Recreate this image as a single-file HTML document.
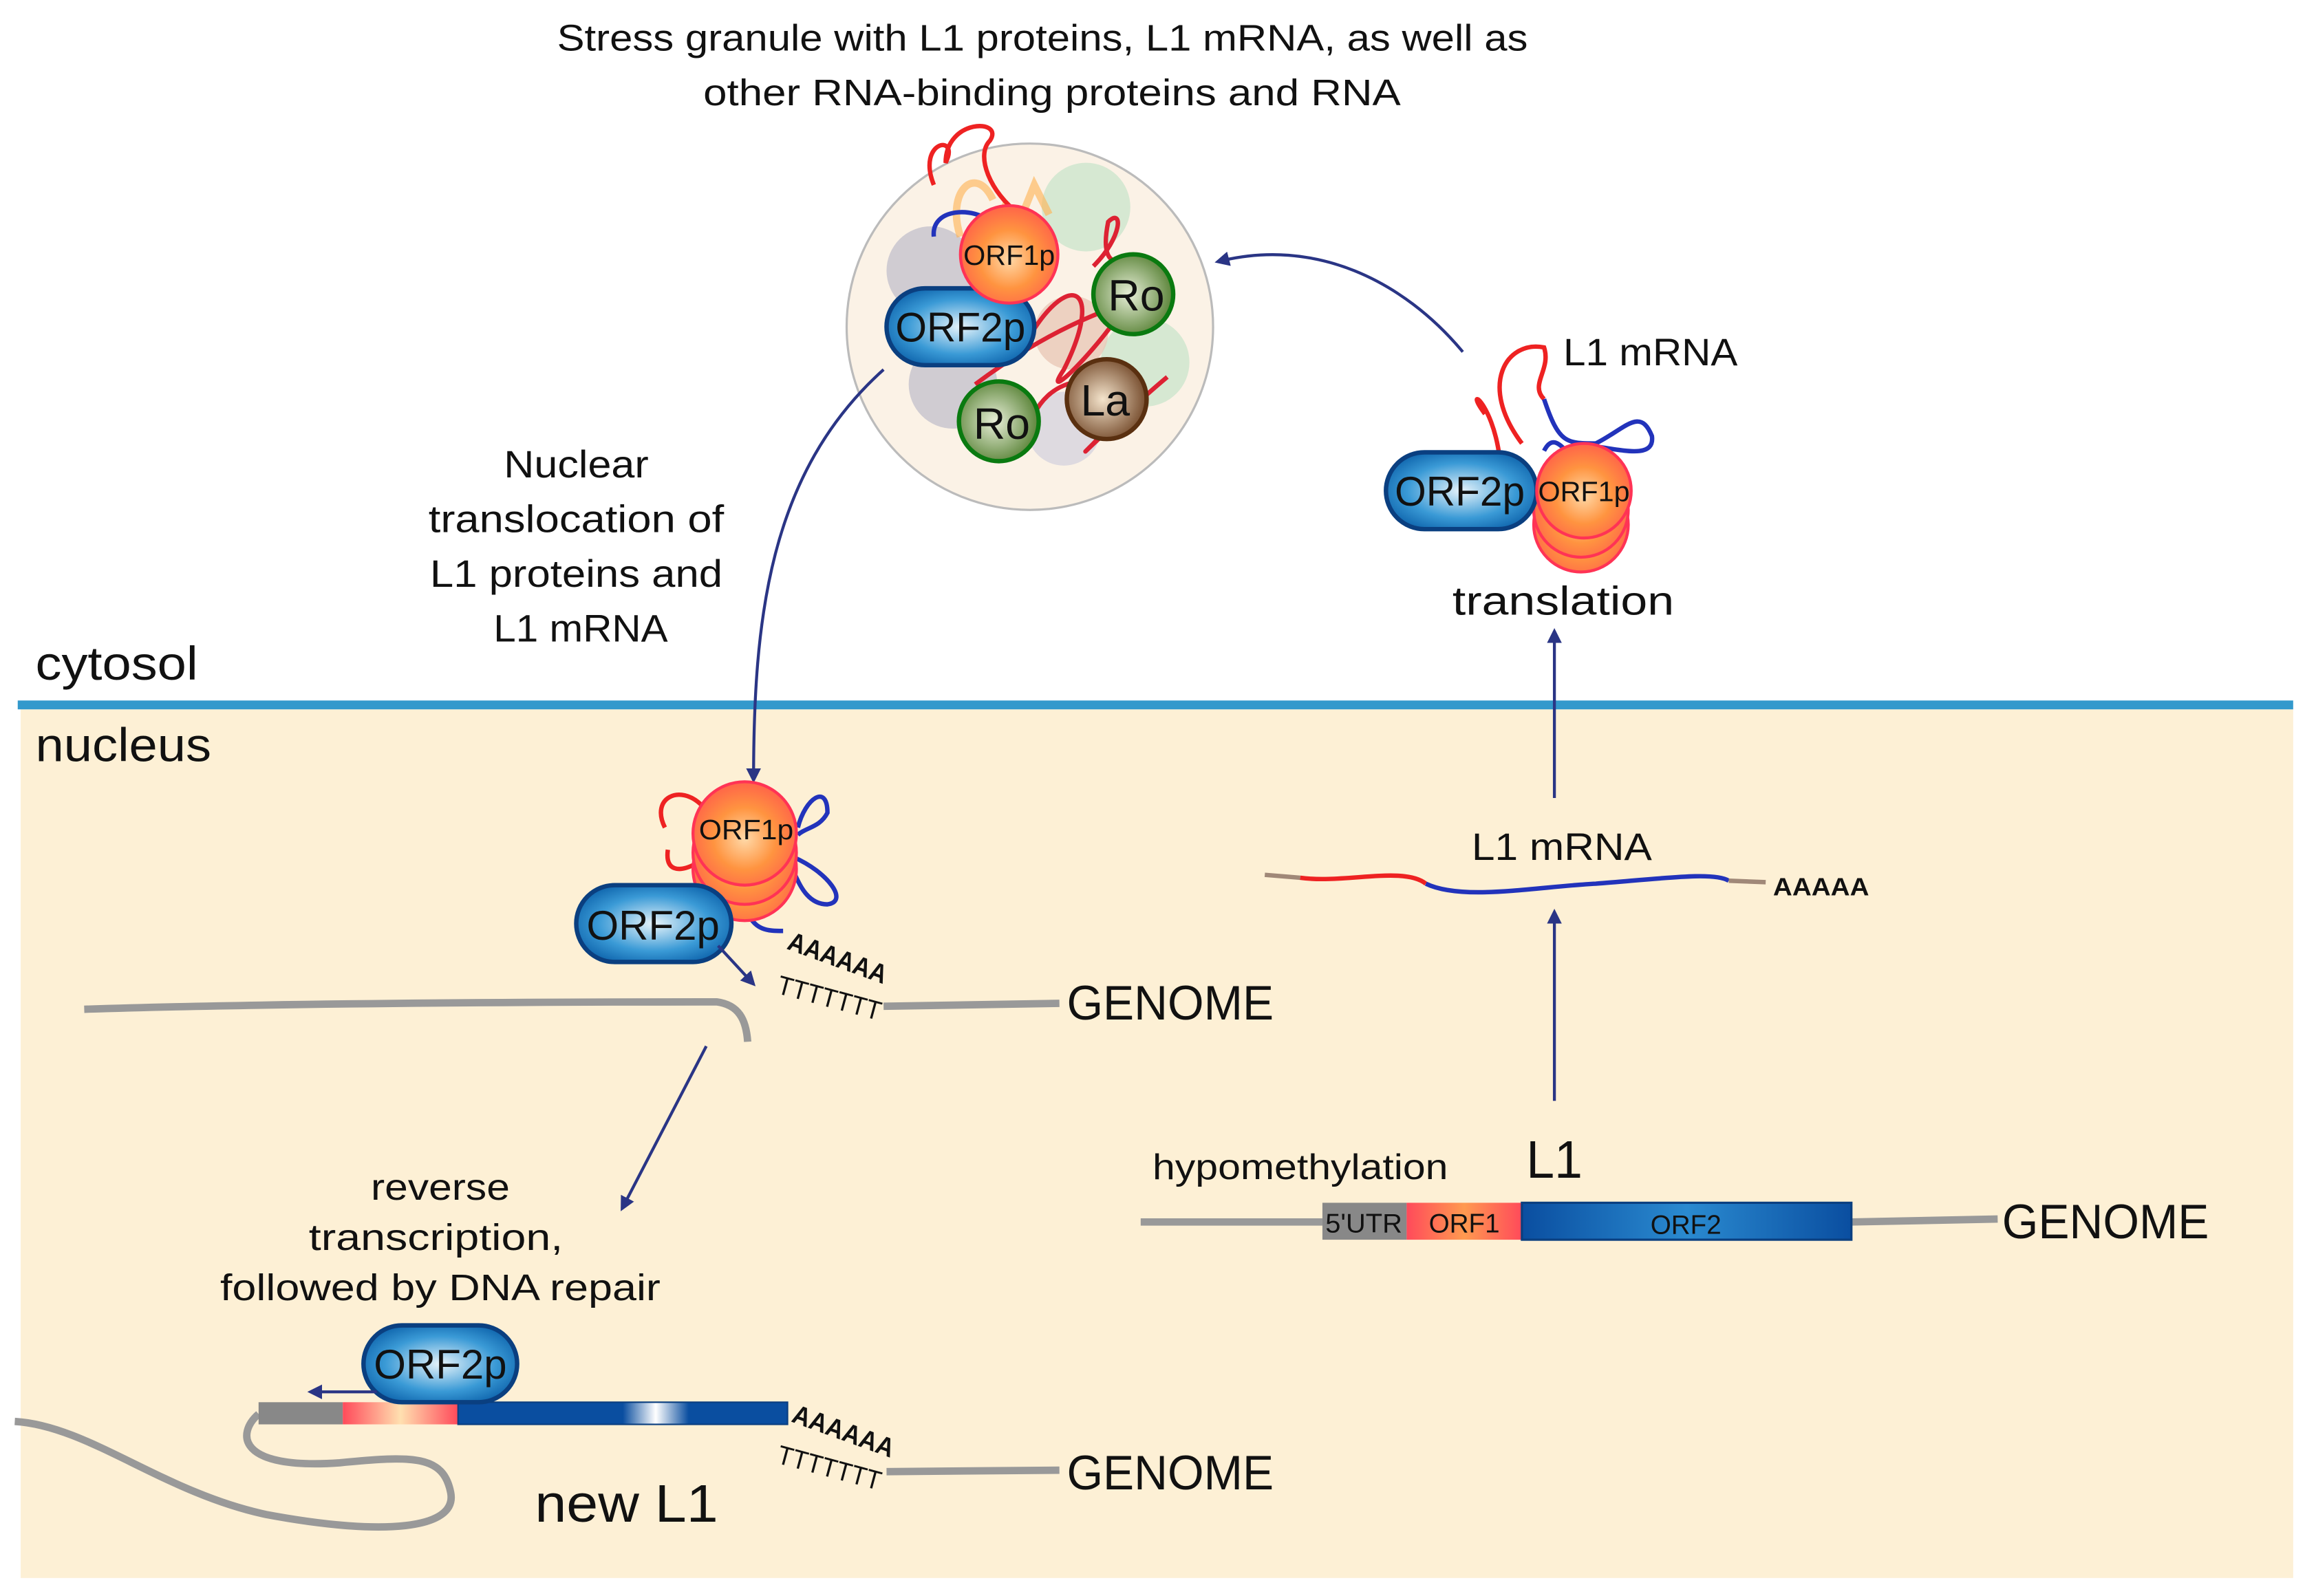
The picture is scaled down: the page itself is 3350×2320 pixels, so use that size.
<!DOCTYPE html>
<html><head><meta charset="utf-8"><style>
html,body{margin:0;padding:0;background:#fff}
svg{display:block}
text{font-family:"Liberation Sans",sans-serif;fill:#111}
</style></head><body>
<svg width="3350" height="2320" viewBox="0 0 1560 1080" xmlns="http://www.w3.org/2000/svg">
<defs>
<radialGradient id="blue" cx="50%" cy="50%" r="60%"><stop offset="0" stop-color="#e6f3fa"/><stop offset="0.6" stop-color="#3a9ad6"/><stop offset="1" stop-color="#0a5fa8"/></radialGradient>
<radialGradient id="org" cx="50%" cy="55%" r="60%"><stop offset="0" stop-color="#ffd9a8"/><stop offset="0.5" stop-color="#ff9440"/><stop offset="1" stop-color="#ff5a4a"/></radialGradient>
<radialGradient id="grn" cx="45%" cy="50%" r="60%"><stop offset="0" stop-color="#e8efd8"/><stop offset="1" stop-color="#4e7a2a"/></radialGradient>
<radialGradient id="brn" cx="45%" cy="50%" r="60%"><stop offset="0" stop-color="#f4e4cc"/><stop offset="1" stop-color="#6b3f1f"/></radialGradient>
<linearGradient id="orf2" x1="0" x2="1"><stop offset="0" stop-color="#0a4ea0"/><stop offset="0.5" stop-color="#2a8ad0"/><stop offset="1" stop-color="#0a4ea0"/></linearGradient>
<linearGradient id="orf1" x1="0" x2="1"><stop offset="0" stop-color="#ff4a5a"/><stop offset="0.5" stop-color="#ff9a50"/><stop offset="1" stop-color="#ff4a5a"/></linearGradient>
<linearGradient id="neworf1" x1="0" x2="1"><stop offset="0" stop-color="#ff4a5a"/><stop offset="0.5" stop-color="#ffe0b0"/><stop offset="1" stop-color="#ff4a5a"/></linearGradient>
<linearGradient id="neworf2" x1="0" x2="1"><stop offset="0" stop-color="#0a4ea0"/><stop offset="0.5" stop-color="#0a4ea0"/><stop offset="0.6" stop-color="#ffffff"/><stop offset="0.7" stop-color="#0a4ea0"/><stop offset="1" stop-color="#0a4ea0"/></linearGradient>
<marker id="ar" markerWidth="10" markerHeight="10" refX="8" refY="5" orient="auto" markerUnits="userSpaceOnUse"><path d="M0,0 L10,5 L0,10 Z" fill="#2a3585"/></marker>
</defs>

<rect x="14" y="480" width="1538" height="588" fill="#fdf0d5"/>
<rect x="12" y="474" width="1540" height="6" fill="#3399cc"/>

<text x="377" y="34" font-size="25" textLength="657" lengthAdjust="spacingAndGlyphs">Stress granule with L1 proteins, L1 mRNA, as well as</text>
<text x="476" y="71" font-size="25" textLength="472" lengthAdjust="spacingAndGlyphs">other RNA-binding proteins and RNA</text>
<text x="24" y="460" font-size="32" textLength="110" lengthAdjust="spacingAndGlyphs">cytosol</text>
<text x="24" y="515" font-size="32" textLength="119" lengthAdjust="spacingAndGlyphs">nucleus</text>

<circle cx="697" cy="221" r="124" fill="#fbf2e6" stroke="#bbb" stroke-width="1.5"/>
<circle cx="630" cy="183" r="30" fill="#d0ccd2"/>
<circle cx="645" cy="260" r="30" fill="#d0ccd2"/>
<circle cx="735" cy="140" r="30" fill="#d6e8d2"/>
<circle cx="775" cy="245" r="30" fill="#d6e8d2"/>
<circle cx="720" cy="290" r="25" fill="#dedae0"/>
<circle cx="725" cy="225" r="25" fill="#eac8b8" opacity="0.8"/>
<path d="M672,135 C660,110 640,130 650,160 M672,160 L680,140 L690,150 L700,125 L710,145" fill="none" stroke="#ffb050" stroke-width="5" opacity="0.6"/>
<path d="M632,125 C620,95 650,90 640,110 C640,80 680,80 670,95 C660,105 670,130 690,145" fill="none" stroke="#ee2222" stroke-width="3"/>
<path d="M632,160 C630,140 660,140 670,150 C680,140 700,145 705,155" fill="none" stroke="#2233bb" stroke-width="3"/>
<path d="M690,240 C720,180 750,190 720,250 C700,280 760,220 770,190 C780,160 740,200 750,150 C760,140 760,160 740,180 M660,260 C700,230 740,210 780,200 M700,280 C720,240 780,260 740,300 C720,320 760,280 790,255" fill="none" stroke="#dd2233" stroke-width="3"/>
<rect x="600" y="195" width="100" height="52" rx="26" fill="url(#blue)" stroke="#0a3f80" stroke-width="3"/>
<text x="650" y="231" font-size="28" text-anchor="middle" textLength="88" lengthAdjust="spacingAndGlyphs">ORF2p</text>
<circle cx="683" cy="172" r="33" fill="url(#org)" stroke="#ff3355" stroke-width="2"/>
<text x="683" y="179" font-size="19" text-anchor="middle" textLength="62" lengthAdjust="spacingAndGlyphs">ORF1p</text>
<circle cx="767" cy="199" r="27" fill="url(#grn)" stroke="#0a7a10" stroke-width="3"/>
<text x="769" y="210" font-size="30" text-anchor="middle">Ro</text>
<circle cx="676" cy="285" r="27" fill="url(#grn)" stroke="#0a7a10" stroke-width="3"/>
<text x="678" y="297" font-size="30" text-anchor="middle">Ro</text>
<circle cx="749" cy="270" r="27" fill="url(#brn)" stroke="#5a3010" stroke-width="3"/>
<text x="748" y="281" font-size="30" text-anchor="middle">La</text>

<path d="M598,250 C520,320 510,420 510,528" fill="none" stroke="#2a3585" stroke-width="2" marker-end="url(#ar)"/>
<path d="M990,238 C950,190 890,160 824,177" fill="none" stroke="#2a3585" stroke-width="2" marker-end="url(#ar)"/>
<text x="390" y="323" font-size="26" text-anchor="middle" textLength="98" lengthAdjust="spacingAndGlyphs">Nuclear</text>
<text x="390" y="360" font-size="26" text-anchor="middle" textLength="200" lengthAdjust="spacingAndGlyphs">translocation of</text>
<text x="390" y="397" font-size="26" text-anchor="middle" textLength="198" lengthAdjust="spacingAndGlyphs">L1 proteins and</text>
<text x="393" y="434" font-size="26" text-anchor="middle" textLength="118" lengthAdjust="spacingAndGlyphs">L1 mRNA</text>

<text x="1058" y="247" font-size="26" textLength="118" lengthAdjust="spacingAndGlyphs">L1 mRNA</text>
<path d="M1015,310 C1010,270 990,260 1005,280 M1030,300 C1000,260 1020,230 1045,235 C1050,250 1035,260 1045,270" fill="none" stroke="#ee2222" stroke-width="3"/>
<path d="M1045,270 C1055,300 1060,300 1080,300 C1100,290 1110,275 1118,295 C1120,310 1100,305 1080,302 M1045,305 C1050,295 1055,300 1060,305" fill="none" stroke="#2233bb" stroke-width="3"/>
<circle cx="1070" cy="355" r="32" fill="url(#org)" stroke="#ff3355" stroke-width="2"/>
<circle cx="1070" cy="345" r="32" fill="url(#org)" stroke="#ff3355" stroke-width="2"/>
<rect x="938" y="306" width="102" height="52" rx="26" fill="url(#blue)" stroke="#0a3f80" stroke-width="3"/>
<text x="988" y="342" font-size="28" text-anchor="middle" textLength="88" lengthAdjust="spacingAndGlyphs">ORF2p</text>
<circle cx="1072" cy="332" r="32" fill="url(#org)" stroke="#ff3355" stroke-width="2"/>
<text x="1072" y="339" font-size="19" text-anchor="middle" textLength="62" lengthAdjust="spacingAndGlyphs">ORF1p</text>
<text x="1058" y="416" font-size="27" text-anchor="middle" textLength="150" lengthAdjust="spacingAndGlyphs">translation</text>
<line x1="1052" y1="540" x2="1052" y2="427" stroke="#2a3585" stroke-width="2" marker-end="url(#ar)"/>

<text x="1057" y="582" font-size="26" text-anchor="middle" textLength="122" lengthAdjust="spacingAndGlyphs">L1 mRNA</text>
<path d="M856,592 L880,594" stroke="#a08878" stroke-width="3" fill="none"/>
<path d="M880,594 C910,598 950,586 965,598" stroke="#ee2222" stroke-width="3" fill="none"/>
<path d="M965,598 C990,610 1040,600 1080,598 C1130,594 1160,590 1170,596" stroke="#2233bb" stroke-width="3" fill="none"/>
<path d="M1170,596 L1195,597" stroke="#a08878" stroke-width="3"/>
<text x="1200" y="606" font-size="17" font-weight="bold" textLength="65" lengthAdjust="spacingAndGlyphs">AAAAA</text>
<line x1="1052" y1="745" x2="1052" y2="617" stroke="#2a3585" stroke-width="2" marker-end="url(#ar)"/>

<text x="780" y="798" font-size="24" textLength="200" lengthAdjust="spacingAndGlyphs">hypomethylation</text>
<text x="1033" y="797" font-size="36" textLength="38" lengthAdjust="spacingAndGlyphs">L1</text>
<line x1="772" y1="827" x2="895" y2="827" stroke="#999" stroke-width="5"/>
<line x1="1253" y1="827" x2="1352" y2="825" stroke="#999" stroke-width="5"/>
<rect x="895" y="814" width="57" height="25" fill="#888"/>
<rect x="952" y="814" width="78" height="25" fill="url(#orf1)"/>
<rect x="1030" y="814" width="223" height="25" fill="url(#orf2)" stroke="#0a3f80" stroke-width="1.5"/>
<text x="923" y="834" font-size="18" text-anchor="middle" textLength="52" lengthAdjust="spacingAndGlyphs">5'UTR</text>
<text x="991" y="834" font-size="18" text-anchor="middle">ORF1</text>
<text x="1141" y="835" font-size="18" text-anchor="middle">ORF2</text>
<text x="1355" y="838" font-size="33" textLength="140" lengthAdjust="spacingAndGlyphs">GENOME</text>

<path d="M450,560 C440,540 460,530 475,545 M452,575 C450,590 460,590 470,585" fill="none" stroke="#ee2222" stroke-width="3"/>
<path d="M540,560 C545,540 560,530 560,550 C555,560 545,560 540,565 M537,580 C560,590 575,610 560,612 C545,612 540,595 537,590 M505,615 C510,630 520,630 530,630" fill="none" stroke="#2233bb" stroke-width="3"/>
<circle cx="504" cy="588" r="35" fill="url(#org)" stroke="#ff3355" stroke-width="2"/>
<circle cx="504" cy="577" r="35" fill="url(#org)" stroke="#ff3355" stroke-width="2"/>
<circle cx="504" cy="564" r="35" fill="url(#org)" stroke="#ff3355" stroke-width="2"/>
<text x="505" y="568" font-size="19" text-anchor="middle" textLength="64" lengthAdjust="spacingAndGlyphs">ORF1p</text>
<rect x="390" y="599" width="105" height="52" rx="26" fill="url(#blue)" stroke="#0a3f80" stroke-width="3"/>
<text x="442" y="636" font-size="28" text-anchor="middle" textLength="90" lengthAdjust="spacingAndGlyphs">ORF2p</text>
<line x1="486" y1="640" x2="510" y2="666" stroke="#2a3585" stroke-width="2" marker-end="url(#ar)"/>
<text x="532" y="642" font-size="18" font-weight="bold" transform="rotate(20 532 642)" textLength="70" lengthAdjust="spacingAndGlyphs">AAAAAA</text>
<text x="525" y="672" font-size="18" transform="rotate(15 525 672)" textLength="72" lengthAdjust="spacingAndGlyphs">TTTTTTT</text>
<path d="M57,683 C150,680 300,678 485,678 C500,680 505,690 506,705" fill="none" stroke="#999" stroke-width="5"/>
<line x1="598" y1="681" x2="717" y2="679" stroke="#999" stroke-width="5"/>
<text x="722" y="690" font-size="33" textLength="140" lengthAdjust="spacingAndGlyphs">GENOME</text>
<line x1="478" y1="708" x2="421" y2="818" stroke="#2a3585" stroke-width="2" marker-end="url(#ar)"/>

<text x="298" y="812" font-size="25" text-anchor="middle" textLength="94" lengthAdjust="spacingAndGlyphs">reverse</text>
<text x="295" y="846" font-size="25" text-anchor="middle" textLength="172" lengthAdjust="spacingAndGlyphs">transcription,</text>
<text x="298" y="880" font-size="25" text-anchor="middle" textLength="298" lengthAdjust="spacingAndGlyphs">followed by DNA repair</text>

<path d="M10,962 C60,965 110,1010 180,1025 C260,1040 310,1035 305,1010 C300,985 280,985 230,990 C160,995 160,970 175,957" fill="none" stroke="#999" stroke-width="5"/>
<rect x="175" y="949" width="57" height="15" fill="#888"/>
<rect x="232" y="949" width="78" height="15" fill="url(#neworf1)"/>
<rect x="310" y="949" width="223" height="15" fill="url(#neworf2)" stroke="#0a3f80" stroke-width="1"/>
<rect x="246" y="897" width="104" height="52" rx="26" fill="url(#blue)" stroke="#0a3f80" stroke-width="3"/>
<text x="298" y="933" font-size="28" text-anchor="middle" textLength="90" lengthAdjust="spacingAndGlyphs">ORF2p</text>
<line x1="255" y1="942" x2="210" y2="942" stroke="#2a3585" stroke-width="2" marker-end="url(#ar)"/>
<text x="535" y="962" font-size="18" font-weight="bold" transform="rotate(20 535 962)" textLength="72" lengthAdjust="spacingAndGlyphs">AAAAAA</text>
<text x="525" y="990" font-size="18" transform="rotate(15 525 990)" textLength="72" lengthAdjust="spacingAndGlyphs">TTTTTTT</text>
<line x1="600" y1="996" x2="717" y2="995" stroke="#999" stroke-width="5"/>
<text x="722" y="1008" font-size="33" textLength="140" lengthAdjust="spacingAndGlyphs">GENOME</text>
<text x="362" y="1030" font-size="36" textLength="124" lengthAdjust="spacingAndGlyphs">new L1</text>
</svg>
</body></html>
